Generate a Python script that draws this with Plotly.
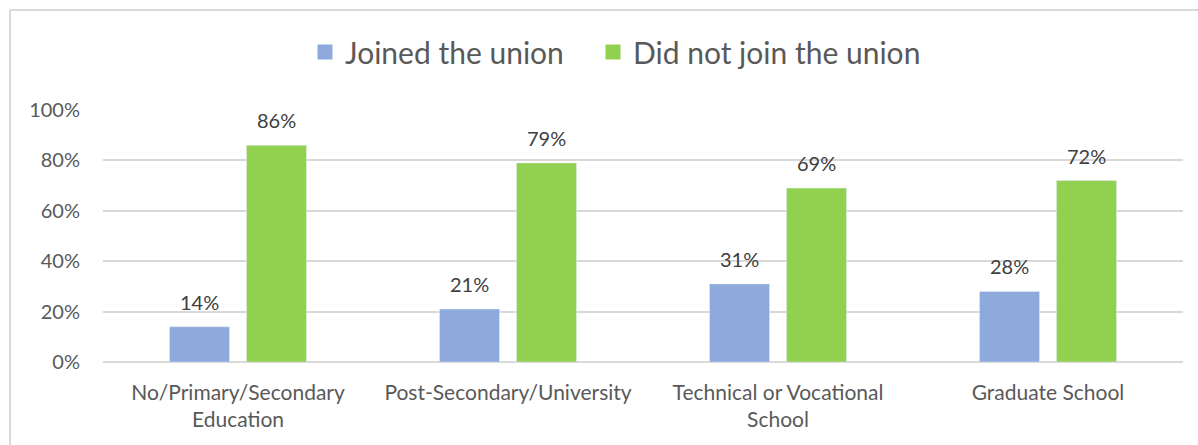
import plotly.graph_objects as go

categories = [
    "No/Primary/Secondary<br>Education",
    "Post-Secondary/University",
    "Technical or Vocational<br>School",
    "Graduate School",
]
joined = [14, 21, 31, 28]
not_joined = [86, 79, 69, 72]
y_ticks = [0, 20, 40, 60, 80, 100]
y_tick_labels = ["0%", "20%", "40%", "60%", "80%", "100%"]

W, H = 1198, 445
ML, MR, MT, MB = 103, 15, 110, 83
FONT = "Lato, Calibri, sans-serif"
TEXT = "#595959"
LABEL = "#404040"
BLUE, GREEN = "#8EA9DB", "#92D050"
BARGAP, GROUPGAP = 0.43, 0.22

pw = W - ML - MR
ph = H - MT - MB
slot = pw / len(categories) * (1 - BARGAP) / 2

series = [
    ("Joined the union", joined, BLUE, -1, "legend", 305),
    ("Did not join the union", not_joined, GREEN, 1, "legend2", 593),
]

fig = go.Figure()
legend_layout = {}
for name, vals, color, side, leg, left_px in series:
    fig.add_trace(go.Bar(name=name, x=categories, y=vals, marker_color=color,
                         showlegend=False))
    # legend entry with a larger square swatch
    fig.add_trace(go.Scatter(name=name, x=[None], y=[None], mode="markers",
                             marker=dict(symbol="square", size=15, color=color),
                             showlegend=True, legend=leg))
    legend_layout[leg] = dict(
        orientation="h", x=(left_px - ML) / pw, xanchor="left",
        y=1 + (MT - 52) / ph, yanchor="middle",
        font=dict(size=30, color=TEXT, family=FONT), itemwidth=30,
        bgcolor="rgba(0,0,0,0)")
    for c, v in zip(categories, vals):
        fig.add_annotation(x=c, y=v, text=f"{v}%", showarrow=False,
                           xshift=side * slot / 2, yshift=25,
                           font=dict(size=20, color=LABEL, family=FONT))

# chart-area frame (left and top edges)
fx0 = (10 - ML) / pw
fy1 = 1 + (MT - 10) / ph
fy0 = -(MB + 20) / ph
frame = dict(type="line", xref="paper", yref="paper",
             line=dict(color="#D9D9D9", width=2), layer="below")

fig.update_layout(
    width=W, height=H,
    margin=dict(l=ML, r=MR, t=MT, b=MB, pad=0),
    paper_bgcolor="white", plot_bgcolor="white",
    barmode="group", bargap=BARGAP, bargroupgap=GROUPGAP,
    font=dict(family=FONT, color=TEXT, size=20),
    showlegend=True,
    shapes=[
        dict(frame, x0=fx0, x1=fx0, y0=fy0, y1=fy1),
        dict(frame, x0=fx0, x1=1 + MR / pw, y0=fy1, y1=fy1),
    ],
    xaxis=dict(showline=False, ticks="", showgrid=False, ticklabelstandoff=16,
               tickfont=dict(size=21, color=TEXT)),
    yaxis=dict(range=[0, 100], tickvals=y_ticks, ticktext=y_tick_labels,
               showgrid=True, gridcolor="#D9D9D9", gridwidth=2,
               zeroline=True, zerolinecolor="#D9D9D9", zerolinewidth=2,
               showline=False, ticks="", ticklabelstandoff=22,
               tickfont=dict(size=20, color=TEXT)),
    **legend_layout,
)

fig.write_html("out.html")
